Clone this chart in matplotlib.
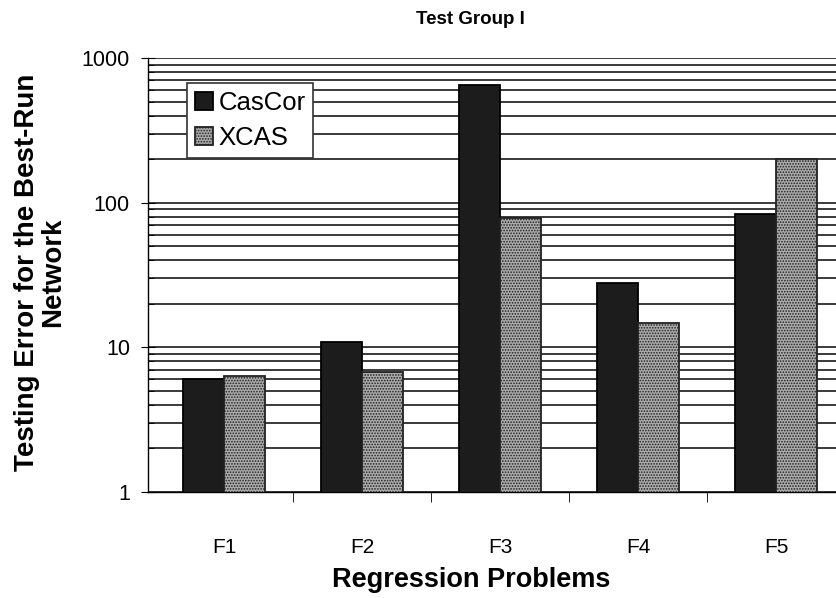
import matplotlib
matplotlib.use("Agg")
import matplotlib.pyplot as plt
import numpy as np
from matplotlib.ticker import LogLocator, NullFormatter, FixedLocator

problems = ["F1", "F2", "F3", "F4", "F5"]
cascor = [6.0, 10.9, 655, 27.7, 84]
xcas = [6.3, 6.7, 78, 14.7, 200]

plt.rcParams["font.family"] = ["Liberation Sans", "DejaVu Sans"]
plt.rcParams["hatch.color"] = "#7a7a7a"
plt.rcParams["hatch.linewidth"] = 0.8

fig = plt.figure(figsize=(8.37, 5.98), dpi=100)
# plot area is cut off at the right edge, as in the scanned original
ax = fig.add_axes([148 / 837, 1 - 492 / 598, 689 / 837, 434 / 598])

x = np.arange(len(problems))
w = 0.3
ax.bar(x - w / 2, cascor, w, color="#1c1c1c", edgecolor="black", linewidth=1.3,
       label="CasCor", zorder=3)
ax.bar(x + w / 2, xcas, w, color="#ababab", edgecolor="#222222", linewidth=1.3,
       hatch="......", label="XCAS", zorder=3)

ax.set_yscale("log")
ax.set_ylim(1, 1000)
ax.set_xlim(-0.551, 4.442)
ax.yaxis.set_minor_locator(LogLocator(base=10, subs=np.arange(2, 10), numticks=20))
ax.yaxis.set_minor_formatter(NullFormatter())
ax.set_yticks([1, 10, 100, 1000])
ax.set_yticklabels(["1", "10", "100", "1000"])
ax.grid(True, which="both", axis="y", color="#3a3a3a", linewidth=1.4, zorder=0)

ax.set_xticks(x)
ax.set_xticklabels(problems)
ax.tick_params(axis="x", length=0, pad=33, labelsize=15)
ax.xaxis.set_minor_locator(FixedLocator(x[:-1] + 0.5))
ax.tick_params(axis="x", which="minor", direction="out", length=7, color="black")
ax.tick_params(axis="y", which="major", direction="inout", length=10, labelsize=15.5, pad=8)
ax.tick_params(axis="y", which="minor", direction="in", length=4)

for s in ["top", "right"]:
    ax.spines[s].set_visible(False)
ax.spines["left"].set_linewidth(1.0)
ax.spines["bottom"].set_linewidth(1.0)

fig.text(471 / 837, 1 - 580 / 598, "Regression Problems", ha="center", va="center",
         fontsize=19.5, fontweight="bold")
fig.text(40 / 837, 1 - 272 / 598, "Testing Error for the Best-Run\nNetwork",
         ha="center", va="center", rotation=90, multialignment="center",
         fontsize=20, fontweight="bold", linespacing=1.0)
fig.text(470 / 837, 1 - 20 / 598, "Test Group I", ha="center", va="center",
         fontsize=13.5, fontweight="bold")

leg = ax.legend(loc="upper left", bbox_to_anchor=(39 / 689, 1 - 25 / 434),
                fontsize=18.5, frameon=True, fancybox=False, framealpha=1,
                edgecolor="#333333", handlelength=0.72, handleheight=0.72,
                handletextpad=0.2, borderpad=0.3, labelspacing=0.45,
                borderaxespad=0)
leg.get_frame().set_linewidth(1.2)

fig.savefig("out.png", dpi=100)
